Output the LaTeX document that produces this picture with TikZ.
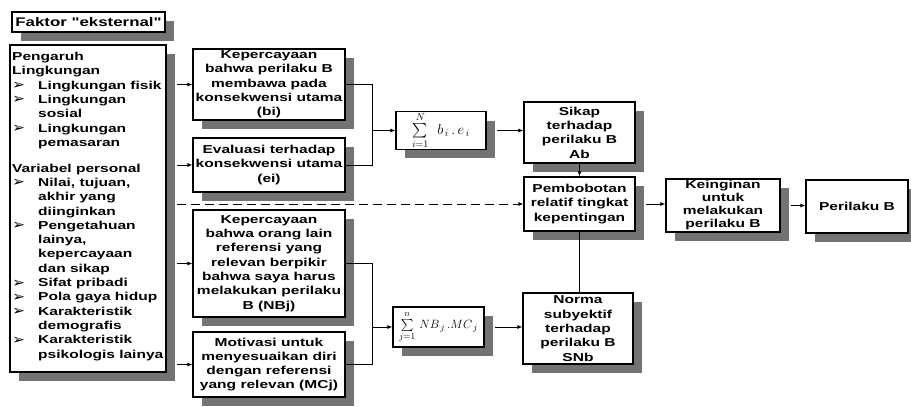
\documentclass[tikz,border=0pt]{standalone}
\usepackage{amsmath}
\usepackage{fontspec}
\setmainfont{Liberation Sans}[FakeStretch=1.35]
\newfontfamily\qfont{Liberation Sans}[FakeStretch=1.35]
\newfontfamily\symfont{DejaVu Sans}
\usetikzlibrary{arrows.meta,shadows}
\newcommand\bl{\makebox[26pt][l]{\raisebox{-0.5pt}{\scalebox{1.35}[1.2]{\symfont\bfseries ➢}}}}
\newcommand\ind{\hspace*{26pt}}
\tikzset{
  bx/.style={draw, line width=1.1pt, fill=white, align=center, inner sep=1pt,
    general shadow={fill=black!55, shadow xshift=9pt, shadow yshift=-9pt},
    font=\bfseries\fontsize{11.5}{14.3}\selectfont},
  ln/.style={line width=1pt},
  arr/.style={line width=1pt, -{Latex[length=5pt,width=4pt]}},
}
\begin{document}
\begin{tikzpicture}[x=1pt,y=-1pt]
\useasboundingbox (0,0) rectangle (911,407);
% boxes
\node[bx, minimum width=153pt, minimum height=20pt, font=\qfont\bfseries\fontsize{12.5}{14}\selectfont] (fak) at (88.5,22) {Faktor "eksternal"};
\node[bx, minimum width=156pt, minimum height=327pt] (left) at (88,208.5) {};
\node[anchor=north west, align=left, inner sep=0pt, font=\bfseries\fontsize{11.5}{14.3}\selectfont] (lt) at (12,52) {%
Pengaruh\\
Lingkungan\\
\bl Lingkungan fisik\\
\bl Lingkungan\\
\ind sosial\\
\bl Lingkungan\\
\ind pemasaran\\[11.5pt]
Variabel personal\\
\bl Nilai, tujuan,\\
\ind akhir yang\\
\ind diinginkan\\
\bl Pengetahuan\\
\ind lainya,\\
\ind kepercayaan\\
\ind dan sikap\\
\bl Sifat pribadi\\
\bl Pola gaya hidup\\
\bl Karakteristik\\
\ind demografis\\
\bl Karakteristik\\
\ind psikologis lainya};
\node[bx, minimum width=152pt, minimum height=71pt] (bi) at (269,84.5) {Kepercayaan\\bahwa perilaku B\\membawa pada\\konsekwensi utama\\(bi)};
\node[bx, minimum width=152pt, minimum height=54pt] (ei) at (269,165) {Evaluasi terhadap\\konsekwensi utama\\(ei)};
\node[bx, minimum width=152pt, minimum height=107pt] (nb) at (269,263.5) {Kepercayaan\\bahwa orang lain\\referensi yang\\relevan berpikir\\bahwa saya harus\\melakukan perilaku\\B (NBj)};
\node[bx, minimum width=152pt, minimum height=65pt] (mc) at (269,364.5) {Motivasi untuk\\menyesuaikan diri\\dengan referensi\\yang relevan (MCj)};
\node[bx, minimum width=90pt, minimum height=35pt, font=\fontsize{14}{16}\selectfont] (s1) at (441,130.5) {$\sum\limits_{i=1}^{N}\;\, b_{\,i}\,.\,e_{\,i}$};
\node[bx, minimum width=91pt, minimum height=40pt, font=\fontsize{12.5}{15}\selectfont] (s2) at (438.5,327) {$\sum\limits_{j=1}^{n}\, NB_{\,j}\,.MC_{\,j}$};
\node[bx, minimum width=111pt, minimum height=61pt] (sikap) at (579.5,132.5) {Sikap\\terhadap\\perilaku B\\Ab};
\node[bx, minimum width=111pt, minimum height=54pt] (pemb) at (579.5,204) {Pembobotan\\relatif tingkat\\kepentingan};
\node[bx, minimum width=110pt, minimum height=71pt] (norma) at (578,328.5) {Norma\\subyektif\\terhadap\\perilaku B\\SNb};
\node[bx, minimum width=114pt, minimum height=53pt, font=\bfseries\fontsize{11.5}{13}\selectfont] (kein) at (723,205.5) {Keinginan\\untuk\\melakukan\\perilaku B};
\node[bx, minimum width=102pt, minimum height=53pt] (peril) at (857,206.5) {Perilaku B};
% connectors
\coordinate (le) at ([xshift=10pt]left.east);
\draw[arr] (le |- bi.west) -- (bi.west);
\draw[arr] (le |- ei.west) -- (ei.west);
\draw[arr] (le |- nb.west) -- (nb.west);
\draw[arr] (le |- mc.west) -- (mc.west);
\draw[arr, dash pattern=on 9pt off 5pt] (le |- pemb.west) -- (pemb.west);
\coordinate (j1) at (372,0);
\draw[ln] (bi.east) -| (j1 |- ei.east) -- (ei.east);
\draw[arr] (j1 |- s1.west) -- (s1.west);
\draw[ln] (nb.east) -| (j1 |- mc.east) -- (mc.east);
\draw[arr] (j1 |- s2.west) -- (s2.west);
\draw[arr] ([xshift=10pt]s1.east) -- (sikap.west |- s1.east);
\draw[arr] ([xshift=10pt]s2.east) -- (norma.west |- s2.east);
\draw[arr] (sikap.south) -- (pemb.north);
\draw[ln] (pemb.south) -- (pemb.south |- norma.north);
\draw[arr] ([xshift=10pt]pemb.east) -- (kein.west |- pemb.east);
\draw[arr] ([xshift=10pt]kein.east) -- (peril.west |- kein.east);
\end{tikzpicture}
\end{document}
